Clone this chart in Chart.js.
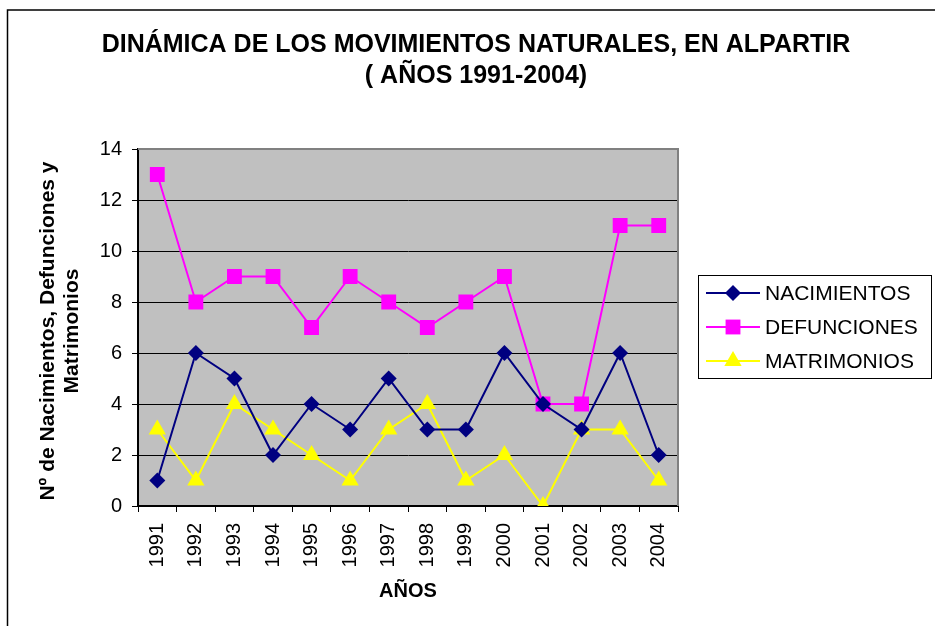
<!DOCTYPE html>
<html>
<head>
<meta charset="utf-8">
<script src="https://cdn.jsdelivr.net/npm/chart.js@4/dist/chart.umd.min.js"></script>
<style>
  body { margin: 0; background: #fff; }
  canvas { display: block; }
</style>
</head>
<body>
<canvas id="chart" width="935" height="626"></canvas>
<script>
// Data
const years = ['1991', '1992', '1993', '1994', '1995', '1996', '1997', '1998', '1999', '2000', '2001', '2002', '2003', '2004'];
const nacimientos = [1, 6, 5, 2, 4, 3, 5, 3, 3, 6, 4, 3, 6, 2];
const defunciones = [13, 8, 9, 9, 7, 9, 8, 7, 8, 9, 4, 4, 11, 11];
const matrimonios = [3, 1, 4, 3, 2, 1, 3, 4, 1, 2, 0, 3, 3, 1];

const titleLines = ['DINÁMICA DE LOS MOVIMIENTOS NATURALES, EN ALPARTIR', '( AÑOS 1991-2004)'];
const yTitleLines = ['Nº de Nacimientos, Defunciones y', 'Matrimonios'];
const xTitle = 'AÑOS';

const FONT = '"Liberation Sans", Arial, sans-serif';

// Background, frame, titles and legend
const decorations = {
    id: 'decorations',
    beforeDraw(chart) {
        const { ctx, chartArea: a } = chart;
        ctx.save();
        ctx.fillStyle = '#fff';
        ctx.fillRect(0, 0, chart.width, chart.height);
        ctx.fillStyle = '#C0C0C0';
        ctx.fillRect(a.left, a.top, a.right - a.left, a.bottom - a.top);
        ctx.restore();
    },
    beforeDatasetsDraw(chart) {
        const { ctx, chartArea: a } = chart;
        ctx.save();
        ctx.strokeStyle = '#808080';
        ctx.lineWidth = 2;
        ctx.beginPath();
        ctx.moveTo(a.left, a.top);
        ctx.lineTo(a.right, a.top);
        ctx.lineTo(a.right, a.bottom);
        ctx.stroke();
        ctx.restore();
    },
    afterDraw(chart) {
        const { ctx } = chart;
        ctx.save();

        // outer frame (only top and left visible)
        ctx.strokeStyle = '#000';
        ctx.lineWidth = 1.5;
        ctx.beginPath();
        ctx.moveTo(935, 10);
        ctx.lineTo(7.5, 10);
        ctx.lineTo(7.5, 626);
        ctx.stroke();

        // title
        ctx.fillStyle = '#000';
        ctx.textAlign = 'center';
        ctx.textBaseline = 'middle';
        ctx.font = 'bold 25px ' + FONT;
        ctx.fillText(titleLines[0], 476, 45);
        ctx.fillText(titleLines[1], 476, 76);

        // axis titles
        ctx.font = 'bold 20px ' + FONT;
        ctx.fillText(xTitle, 408, 591);
        ctx.save();
        ctx.translate(48, 331);
        ctx.rotate(-Math.PI / 2);
        ctx.font = 'bold 21px ' + FONT;
        ctx.fillText(yTitleLines[0], 0, 0);
        ctx.fillText(yTitleLines[1], 0, 24);
        ctx.restore();

        // legend
        ctx.strokeStyle = '#000';
        ctx.lineWidth = 1;
        ctx.strokeRect(698.5, 275.5, 233, 103);
        ctx.font = '21px ' + FONT;
        ctx.textAlign = 'left';
        chart.data.datasets.forEach((ds, i) => {
            const y = 293 + i * 34;
            ctx.strokeStyle = ds.borderColor;
            ctx.lineWidth = 2;
            ctx.beginPath();
            ctx.moveTo(706, y);
            ctx.lineTo(760, y);
            ctx.stroke();
            ctx.fillStyle = ds.backgroundColor;
            Chart.helpers.drawPoint(ctx, {
                pointStyle: ds.pointStyle,
                radius: ds.pointRadius,
                borderWidth: 0,
                rotation: 0
            }, 733, y);
            ctx.fillStyle = '#000';
            ctx.fillText(ds.label, 765, y + 1);
        });
        ctx.restore();
    }
};

new Chart(document.getElementById('chart'), {
    type: 'line',
    data: {
        labels: years,
        datasets: [
            {
                label: 'NACIMIENTOS',
                data: nacimientos,
                borderColor: '#000080',
                backgroundColor: '#000080',
                borderWidth: 2,
                pointStyle: 'rectRot',
                pointRadius: 8,
                pointBorderWidth: 0
            },
            {
                label: 'DEFUNCIONES',
                data: defunciones,
                borderColor: '#FF00FF',
                backgroundColor: '#FF00FF',
                borderWidth: 2,
                pointStyle: 'rect',
                pointRadius: 10.5,
                pointBorderWidth: 0
            },
            {
                label: 'MATRIMONIOS',
                data: matrimonios,
                borderColor: '#FFFF00',
                backgroundColor: '#FFFF00',
                borderWidth: 2,
                pointStyle: 'triangle',
                pointRadius: 10,
                pointBorderWidth: 0
            }
        ]
    },
    options: {
        responsive: false,
        animation: false,
        layout: { padding: { left: 0, top: 149, right: 257, bottom: 0 } },
        plugins: {
            legend: { display: false },
            title: { display: false },
            tooltip: { enabled: false }
        },
        scales: {
            x: {
                offset: true,
                grid: { offset: true, drawOnChartArea: false, color: '#000', tickLength: 6 },
                border: { color: '#000', width: 2 },
                ticks: {
                    color: '#000',
                    font: { family: FONT, size: 20 },
                    minRotation: 90,
                    maxRotation: 90,
                    autoSkip: false,
                    padding: 11
                },
                afterFit(scale) { scale.height = 120; }
            },
            y: {
                min: 0,
                max: 14,
                grid: { color: '#000', tickLength: 6 },
                border: { color: '#000', width: 2 },
                ticks: {
                    stepSize: 2,
                    color: '#000',
                    font: { family: FONT, size: 20 },
                    padding: 10
                },
                afterFit(scale) { scale.width = 138; }
            }
        }
    },
    plugins: [decorations]
});
</script>
</body>
</html>
